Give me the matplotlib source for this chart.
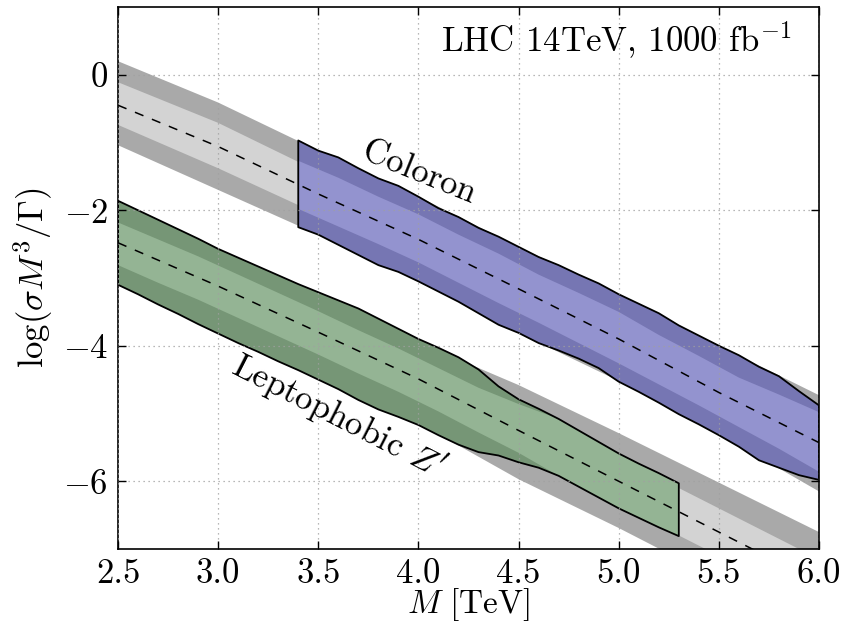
import numpy as np
import matplotlib
matplotlib.use("Agg")
import matplotlib.pyplot as plt

plt.rcParams['font.family'] = 'serif'
plt.rcParams['font.serif'] = ['cmr10']
plt.rcParams['mathtext.fontset'] = 'cm'
plt.rcParams['axes.formatter.use_mathtext'] = True
plt.rcParams['font.size'] = 25

# ---- expected bands (gray) ----
band_x = [2.5, 3.0, 3.5, 4.0, 4.5, 5.0, 5.5, 6.0]
# Coloron expectation
col_exp_center = [-0.45, -1.06, -1.76, -2.43, -3.16, -3.90, -4.69, -5.43]
col_exp_p2 = [0.20, -0.41, -1.12, -1.80, -2.54, -3.24, -4.00, -4.73]
col_exp_p1 = [-0.11, -0.71, -1.43, -2.09, -2.80, -3.52, -4.32, -5.05]
col_exp_m1 = [-0.74, -1.38, -2.06, -2.75, -3.48, -4.24, -5.04, -5.80]
col_exp_m2 = [-1.04, -1.70, -2.36, -3.05, -3.81, -4.52, -5.30, -6.15]
# Leptophobic Z' expectation
zp_exp_center = [-2.48, -3.12, -3.80, -4.49, -5.25, -6.00, -6.75, -7.50]
zp_exp_p2 = [-1.90, -2.60, -3.25, -3.95, -4.58, -5.29, -6.02, -6.75]
zp_exp_p1 = [-2.15, -2.79, -3.46, -4.15, -4.90, -5.65, -6.40, -7.15]
zp_exp_m1 = [-2.81, -3.45, -4.13, -4.82, -5.60, -6.35, -7.10, -7.85]
zp_exp_m2 = [-3.08, -3.80, -4.47, -5.14, -5.97, -6.69, -7.45, -8.20]

# ---- Coloron region (blue) ----
col_x = [3.4, 3.5, 3.6, 3.7, 3.8, 3.9, 4.0, 4.1, 4.2, 4.3, 4.4, 4.5, 4.6, 4.7,
         4.8, 4.9, 5.0, 5.1, 5.2, 5.3, 5.4, 5.5, 5.6, 5.7, 5.8, 5.9, 6.0]
col_top = [-0.97, -1.12, -1.22, -1.38, -1.53, -1.64, -1.80, -1.97, -2.10, -2.26,
           -2.39, -2.54, -2.69, -2.81, -2.95, -3.08, -3.24, -3.38, -3.52, -3.70,
           -3.85, -4.00, -4.14, -4.31, -4.45, -4.67, -4.88]
col_bot = [-2.25, -2.36, -2.51, -2.66, -2.81, -2.91, -3.05, -3.20, -3.35, -3.52,
           -3.69, -3.81, -3.96, -4.07, -4.19, -4.33, -4.53, -4.68, -4.84, -5.01,
           -5.16, -5.32, -5.49, -5.69, -5.80, -5.91, -5.98]
col_in_x = [3.4, 3.6, 3.8, 4.0, 4.2, 4.4, 4.6, 4.8, 5.0, 5.2, 5.4, 5.6, 5.8, 6.0]
col_in_top = [-1.27, -1.52, -1.80, -2.06, -2.36, -2.64, -2.95, -3.22, -3.50,
              -3.84, -4.15, -4.47, -4.72, -4.98]
col_in_bot = [-1.98, -2.24, -2.50, -2.77, -3.07, -3.37, -3.66, -3.96, -4.26,
              -4.57, -4.88, -5.20, -5.52, -5.86]

# ---- Leptophobic Z' region (green) ----
zp_x = [2.5, 2.6, 2.7, 2.8, 2.9, 3.0, 3.1, 3.2, 3.3, 3.4, 3.5, 3.6, 3.7, 3.8,
        3.9, 4.0, 4.1, 4.2, 4.3, 4.4, 4.5, 4.6, 4.7, 4.8, 4.9, 5.0, 5.1, 5.2, 5.3]
zp_top = [-1.86, -2.00, -2.14, -2.28, -2.42, -2.57, -2.70, -2.83, -2.96, -3.09,
          -3.21, -3.33, -3.45, -3.60, -3.75, -3.90, -4.03, -4.17, -4.35, -4.60,
          -4.79, -4.93, -5.08, -5.25, -5.42, -5.59, -5.74, -5.88, -6.03]
zp_bot = [-3.10, -3.24, -3.39, -3.53, -3.68, -3.82, -3.96, -4.09, -4.23, -4.36,
          -4.50, -4.64, -4.80, -4.94, -5.05, -5.17, -5.32, -5.46, -5.57, -5.62,
          -5.72, -5.80, -5.92, -6.08, -6.24, -6.40, -6.54, -6.68, -6.81]
zp_in_x = [2.5, 2.7, 2.9, 3.1, 3.3, 3.5, 3.7, 3.9, 4.1, 4.3, 4.5, 4.7, 4.9, 5.1, 5.3]
zp_in_top = [-2.18, -2.43, -2.68, -2.95, -3.22, -3.49, -3.77, -4.04, -4.33, -4.62,
             -4.86, -5.08, -5.42, -5.74, -6.03]
zp_in_bot = [-2.81, -3.07, -3.32, -3.59, -3.86, -4.13, -4.41, -4.68, -4.97, -5.28,
             -5.58, -5.92, -6.24, -6.54, -6.81]

x_ticks = [2.5, 3.0, 3.5, 4.0, 4.5, 5.0, 5.5, 6.0]
y_ticks = [0, -2, -4, -6]

gray_dark = '#a9a9a9'
gray_light = '#d3d3d3'
blue_dark = '#7676b3'
blue_light = '#9393cf'
green_dark = '#769676'
green_light = '#94b494'

fig = plt.figure(figsize=(8.6, 6.26), dpi=100)
ax = fig.add_axes([118/860, 1-549/626, 701/860, 542/626])

for c, p2, p1, m1, m2 in [(col_exp_center, col_exp_p2, col_exp_p1, col_exp_m1, col_exp_m2),
                          (zp_exp_center, zp_exp_p2, zp_exp_p1, zp_exp_m1, zp_exp_m2)]:
    ax.fill_between(band_x, m2, p2, facecolor=gray_dark, edgecolor='none', zorder=1)
    ax.fill_between(band_x, m1, p1, facecolor=gray_light, edgecolor='none', zorder=1.1)

# Coloron region
ax.fill_between(col_x, col_bot, col_top, facecolor=blue_dark, edgecolor='none', zorder=1.2)
ax.fill_between(col_in_x, col_in_bot, col_in_top, facecolor=blue_light, edgecolor='none', zorder=1.3)
ax.fill_between(col_x, col_bot, col_top, facecolor='none', edgecolor='black', lw=1.3, zorder=1.4)

# Z' region
ax.fill_between(zp_x, zp_bot, zp_top, facecolor=green_dark, edgecolor='none', zorder=1.2)
ax.fill_between(zp_in_x, zp_in_bot, zp_in_top, facecolor=green_light, edgecolor='none', zorder=1.3)
ax.fill_between(zp_x, zp_bot, zp_top, facecolor='none', edgecolor='black', lw=1.3, zorder=1.4)

# expected (dashed) lines
ax.plot(band_x, col_exp_center, color='black', lw=1.1, dashes=(6, 6), zorder=3)
ax.plot(band_x, zp_exp_center, color='black', lw=1.1, dashes=(6, 6), zorder=3)

ax.set_xlim(2.5, 6.0)
ax.set_ylim(-7, 1)
ax.set_xticks(x_ticks)
ax.set_xticklabels(['%.1f' % v for v in x_ticks])
ax.set_yticks(y_ticks)
ax.grid(True, linestyle=(0, (1, 3)), color='#a0a0a0', lw=0.9)
ax.set_axisbelow(False)
ax.tick_params(direction='in', top=True, right=True, length=6, width=1, pad=7)
for s in ax.spines.values():
    s.set_linewidth(1.2)

ax.set_xlabel(r'$M\ [\mathrm{TeV}]$', labelpad=-3, fontsize=24)
ax.set_ylabel(r'$\log(\sigma M^3/\Gamma)$', labelpad=6)

ax.text(0.96, 0.918, r'LHC 14TeV, 1000 fb$^{-1}$', transform=ax.transAxes,
        ha='right', va='baseline')
ax.text(4.0, -1.45, 'Coloron', rotation=-22, ha='center', va='center',
        rotation_mode='anchor')
ax.text(3.6, -5.05, r"Leptophobic $Z^{\prime}$", rotation=-27, ha='center', va='center',
        rotation_mode='anchor')

fig.savefig('out.png', dpi=100)
